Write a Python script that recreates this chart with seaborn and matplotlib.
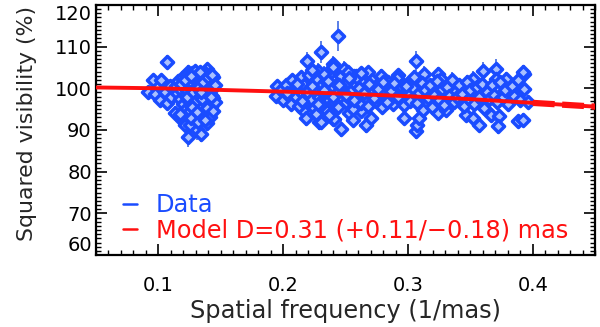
import matplotlib
matplotlib.use("Agg")
import matplotlib.pyplot as plt
import seaborn as sns
import pandas as pd
from matplotlib.ticker import MultipleLocator
from matplotlib.lines import Line2D

# ---- data ----
# low-frequency cluster
c1_freq = [0.0918, 0.0959, 0.097, 0.1017, 0.101, 0.1066, 0.107, 0.113, 0.119, 0.121, 0.125,
           0.131, 0.124, 0.134, 0.139, 0.141, 0.143, 0.124, 0.139, 0.141, 0.105, 0.110, 0.109,
           0.114, 0.115, 0.116, 0.117, 0.118, 0.119, 0.120, 0.120, 0.121, 0.122, 0.122, 0.123,
           0.124, 0.124, 0.125, 0.125, 0.126, 0.127, 0.127, 0.128, 0.128, 0.129, 0.130, 0.130,
           0.131, 0.131, 0.132, 0.133, 0.133, 0.134, 0.134, 0.135, 0.135, 0.136, 0.136, 0.137,
           0.137, 0.138, 0.138, 0.139, 0.139, 0.140, 0.140, 0.141, 0.141, 0.142, 0.142, 0.143,
           0.144, 0.144, 0.145, 0.145, 0.117, 0.126, 0.132, 0.129,
           0.118, 0.121, 0.123, 0.126, 0.128, 0.130, 0.132, 0.133, 0.135, 0.136, 0.138, 0.139,
           0.140, 0.142, 0.143, 0.144, 0.127, 0.131, 0.137, 0.134]
c1_v2 = [99.2, 101.9, 98.7, 101.9, 97.3, 106.4, 96.5, 94.1, 92.3, 91.3, 91.3,
         89.9, 88.3, 89.1, 91.7, 94.1, 98.1, 104.0, 104.6, 103.4, 99.0, 97.8, 100.6,
         100.5, 98.8, 101.8, 97.5, 99.6, 102.5, 96.2, 100.8, 98.3, 103.1, 95.0, 99.7,
         101.5, 97.1, 102.8, 94.6, 100.1, 98.0, 103.6, 96.4, 101.0, 99.2, 102.2, 95.3,
         97.8, 100.6, 103.0, 98.6, 93.8, 101.7, 96.9, 99.9, 102.9, 95.8, 98.1, 100.9,
         103.7, 97.2, 94.5, 99.4, 102.0, 96.5, 100.3, 98.7, 93.2, 101.4, 95.6, 99.9,
         97.6, 102.6, 100.8, 96.8, 93.9, 92.8, 92.0, 104.2,
         101.0, 102.0, 97.8, 103.0, 99.0, 97.0, 100.0, 104.0, 97.5, 101.5, 99.0, 95.2,
         102.8, 97.8, 103.2, 94.5, 95.5, 94.3, 92.5, 99.0]
c1_err = [1.2, 1.4, 1.1, 1.3, 1.2, 1.5, 1.3, 1.6, 1.8, 1.7, 1.9,
          2.2, 2.4, 2.0, 1.9, 1.7, 1.4, 1.5, 1.3, 1.4, 1.1, 1.2, 1.0,
          1.2, 1.3, 1.1, 1.4, 1.2, 1.3, 1.5, 1.1, 1.2, 1.4, 1.6, 1.1,
          1.3, 1.4, 1.2, 1.7, 1.1, 1.3, 1.5, 1.4, 1.2, 1.1, 1.3, 1.6,
          1.4, 1.2, 1.3, 1.1, 1.8, 1.2, 1.4, 1.1, 1.3, 1.5, 1.2, 1.1,
          1.4, 1.3, 1.7, 1.2, 1.3, 1.5, 1.1, 1.2, 1.8, 1.3, 1.6, 1.1,
          1.4, 1.3, 1.2, 1.5, 1.7, 1.9, 2.0, 1.4,
          1.2, 1.3, 1.4, 1.2, 1.3, 1.4, 1.2, 1.3, 1.4, 1.2, 1.3, 1.6,
          1.3, 1.4, 1.3, 1.6, 1.5, 1.6, 1.7, 1.2]

# high-frequency cluster
c2_freq = [0.195, 0.194, 0.209, 0.219, 0.2305, 0.244, 0.228, 0.240, 0.244, 0.216, 0.229,
           0.240, 0.2465, 0.253, 0.256, 0.257, 0.2305, 0.241, 0.256, 0.2625, 0.2665, 0.2705,
           0.268, 0.2585, 0.277, 0.292, 0.297, 0.3065, 0.313, 0.3065, 0.3075, 0.309, 0.324,
           0.3265, 0.324, 0.3305, 0.3385, 0.3465, 0.352, 0.357, 0.352, 0.360, 0.3705, 0.3705,
           0.3785, 0.3665, 0.373, 0.372, 0.381, 0.389, 0.393, 0.392, 0.388, 0.3925, 0.3585,
           0.198, 0.200, 0.202, 0.204, 0.206, 0.207, 0.209, 0.210, 0.212, 0.213, 0.214,
           0.216, 0.217, 0.218, 0.220, 0.221, 0.222, 0.224, 0.225, 0.226, 0.227, 0.229,
           0.230, 0.231, 0.232, 0.234, 0.235, 0.236, 0.237, 0.238, 0.239, 0.241, 0.242,
           0.243, 0.244, 0.245, 0.246, 0.247, 0.248, 0.249, 0.250, 0.251, 0.252, 0.254,
           0.255, 0.256, 0.258, 0.259, 0.260, 0.262, 0.263, 0.264, 0.266, 0.267, 0.268,
           0.270, 0.271, 0.272, 0.274, 0.275, 0.277, 0.278, 0.279, 0.281, 0.282, 0.284,
           0.285, 0.287, 0.288, 0.290, 0.291, 0.293, 0.294, 0.296, 0.297, 0.299, 0.300,
           0.302, 0.304, 0.305, 0.307, 0.309, 0.311, 0.312, 0.314, 0.316, 0.318, 0.319,
           0.321, 0.323, 0.325, 0.327, 0.329, 0.331, 0.333, 0.335, 0.337, 0.339, 0.341,
           0.343, 0.345, 0.347, 0.349, 0.350, 0.353, 0.355, 0.357, 0.359, 0.361, 0.363,
           0.365, 0.367, 0.369, 0.371, 0.374, 0.376, 0.378, 0.380, 0.383, 0.385, 0.388,
           0.390, 0.393, 0.396, 0.223, 0.233, 0.240, 0.252, 0.262, 0.218, 0.237, 0.226,
           0.203, 0.211, 0.215, 0.219, 0.223, 0.228, 0.233, 0.236, 0.240, 0.245, 0.250,
           0.253, 0.257, 0.261, 0.265, 0.269, 0.273, 0.276, 0.280, 0.283, 0.286, 0.289,
           0.292, 0.298]
c2_v2 = [100.6, 98.1, 101.5, 106.6, 108.7, 112.5, 104.2, 105.8, 103.9, 94.9, 91.9,
         92.7, 90.3, 94.1, 95.9, 103.0, 91.9, 92.7, 92.5, 94.5, 91.1, 92.9,
         103.8, 103.0, 101.4, 103.1, 92.9, 106.6, 103.4, 89.7, 91.3, 92.9, 103.4,
         102.2, 94.1, 94.9, 99.3, 93.7, 92.9, 91.3, 102.2, 104.2, 104.6, 102.2,
         102.2, 93.7, 93.3, 90.9, 99.3, 100.2, 103.4, 103.8, 92.1, 92.4, 97.8,
         99.5, 97.2, 100.8, 98.4, 96.3, 101.9, 99.0, 97.8, 100.2, 95.8, 102.6,
         98.7, 100.9, 96.9, 99.6, 103.2, 97.5, 101.3, 95.2, 99.0, 102.1, 97.9,
         100.5, 96.1, 98.8, 101.8, 94.6, 99.8, 97.2, 103.8, 100.4, 96.6, 98.2,
         101.0, 95.5, 99.3, 102.9, 97.6, 100.0, 104.6, 96.8, 98.9, 101.6, 97.3,
         99.7, 95.0, 100.8, 98.1, 102.3, 96.4, 99.1, 101.2, 97.7, 100.1, 95.7,
         98.6, 102.0, 99.4, 96.9, 100.7, 98.0, 103.0, 95.4, 99.5, 97.1, 101.4,
         98.5, 100.3, 96.2, 99.0, 102.4, 97.4, 100.6, 98.3, 95.9, 101.1, 99.2,
         97.0, 100.0, 102.7, 96.5, 98.8, 101.3, 94.8, 99.6, 97.6, 100.9, 95.6,
         98.4, 101.7, 97.2, 99.8, 96.0, 100.4, 98.1, 102.1, 96.8, 97.9, 100.9,
         98.6, 95.8, 101.5, 97.5, 99.7, 96.3, 100.2, 98.0, 101.0, 95.3, 99.1,
         97.4, 100.8, 98.3, 96.6, 101.6, 97.8, 99.6, 96.2, 100.5, 98.2, 101.9,
         97.1, 99.9, 96.8, 104.5, 103.5, 105.0, 104.0, 103.6, 92.8, 93.5, 93.9,
         98.9, 101.0, 97.0, 99.0, 100.5, 96.3, 99.6, 101.8, 97.9, 100.7, 98.5,
         102.4, 97.2, 100.0, 98.8, 101.0, 97.6, 99.8, 101.6, 96.8, 99.3, 101.2,
         98.0, 100.6]
c2_err = [1.3, 1.2, 1.4, 2.2, 2.6, 3.6, 1.8, 2.0, 1.7, 1.5, 1.9,
          1.8, 2.1, 1.6, 1.4, 1.7, 1.9, 1.8, 1.7, 1.6, 1.9, 1.7,
          1.6, 1.5, 1.4, 1.6, 1.8, 2.4, 1.9, 1.8, 1.7, 1.6, 1.7,
          1.5, 1.6, 1.5, 1.3, 1.6, 1.5, 1.7, 2.0, 2.2, 2.4, 1.9,
          1.6, 1.5, 1.6, 1.8, 1.4, 1.3, 2.1, 1.8, 1.6, 1.7, 1.4,
          1.2, 1.3, 1.1, 1.4, 1.2, 1.5, 1.1, 1.3, 1.2, 1.4, 1.6,
          1.2, 1.3, 1.4, 1.1, 1.7, 1.3, 1.2, 1.5, 1.1, 1.4, 1.3,
          1.2, 1.4, 1.1, 1.5, 1.6, 1.2, 1.3, 1.8, 1.2, 1.4, 1.1,
          1.3, 1.5, 1.2, 1.6, 1.3, 1.1, 1.9, 1.4, 1.2, 1.5, 1.3,
          1.2, 1.5, 1.3, 1.1, 1.6, 1.4, 1.2, 1.3, 1.4, 1.1, 1.5,
          1.3, 1.6, 1.2, 1.4, 1.3, 1.1, 1.7, 1.5, 1.2, 1.3, 1.4,
          1.2, 1.3, 1.5, 1.2, 1.6, 1.3, 1.4, 1.2, 1.5, 1.3, 1.2,
          1.4, 1.2, 1.7, 1.5, 1.3, 1.4, 1.6, 1.2, 1.4, 1.3, 1.5,
          1.3, 1.6, 1.4, 1.2, 1.5, 1.3, 1.2, 1.7, 1.4, 1.3, 1.5,
          1.3, 1.5, 1.6, 1.3, 1.2, 1.5, 1.3, 1.2, 1.4, 1.6, 1.3,
          1.4, 1.5, 1.3, 1.5, 1.7, 1.4, 1.3, 1.5, 1.4, 1.3, 1.6,
          1.4, 1.3, 1.5, 2.0, 1.8, 2.1, 1.7, 1.6, 1.8, 1.7, 1.6,
          1.2, 1.3, 1.4, 1.2, 1.3, 1.4, 1.2, 1.3, 1.4, 1.2, 1.3,
          1.5, 1.3, 1.2, 1.3, 1.4, 1.3, 1.2, 1.4, 1.3, 1.2, 1.3,
          1.4, 1.3]

# model curve
model_freq = [0.05, 0.10, 0.15, 0.20, 0.25, 0.30, 0.35, 0.40, 0.45]
model_v2 = [100.2, 100.0, 99.6, 99.2, 98.7, 98.1, 97.4, 96.5, 95.6]

x_ticks = [0.1, 0.2, 0.3, 0.4]
y_ticks = [60, 70, 80, 90, 100, 110, 120]
legend_labels = ["Data", "Model D=0.31 (+0.11/\u22120.18) mas"]

# ---- build tables ----
data = pd.DataFrame({
    "freq": c1_freq + c2_freq,
    "v2": c1_v2 + c2_v2,
    "err": c1_err + c2_err,
})
model = pd.DataFrame({"freq": model_freq, "v2": model_v2})

BLUE = "#1a4cff"
BAR = "#5a7fe6"
FACE = "#a9c0ff"
RED = "#ff1010"

sns.set_theme(style="ticks")
plt.rcParams["font.family"] = ["DejaVu Sans"]

fig = plt.figure(figsize=(6.0, 3.27), dpi=100)
ax = fig.add_axes([0.16, 0.22, 0.832, 0.765])

ax.errorbar(data["freq"], data["v2"], yerr=data["err"], fmt="none",
            ecolor=BAR, elinewidth=1.4, capsize=0, zorder=1)
sns.scatterplot(data=data, x="freq", y="v2", marker="D", s=38,
                color=FACE, edgecolor=BLUE, linewidth=2.5, ax=ax, zorder=2)
sns.lineplot(data=model, x="freq", y="v2", color=RED, lw=2.8, ax=ax,
             zorder=3, sort=True, estimator=None)
m_tail = model[model["freq"] >= 0.40]
ax.plot(m_tail["freq"], m_tail["v2"], color=RED, lw=4.5,
        dashes=(3.5, 1.2), zorder=3, solid_capstyle="butt")

ax.set_xlim(0.05, 0.45)
ax.set_ylim(60, 120)
ax.set_xticks(x_ticks)
ax.set_xticklabels([f"{t:.1f}" for t in x_ticks])
ax.set_yticks(y_ticks)
ax.set_yticklabels([str(t) for t in y_ticks])
ax.xaxis.set_minor_locator(MultipleLocator(0.01))
ax.yaxis.set_minor_locator(MultipleLocator(1))
ax.tick_params(which="both", direction="in", top=True, right=True,
               labelsize=14, colors="black", width=1.2)
ax.tick_params(axis="x", which="major", pad=15)
ax.tick_params(axis="y", which="major", pad=3)
ax.tick_params(which="major", length=8)
ax.tick_params(which="minor", length=3.5, width=1.0)
for sp in ax.spines.values():
    sp.set_linewidth(1.6)
    sp.set_color("black")

# end labels sit inside the axis range, as in the reference
ylabels = ax.get_yticklabels()
ylabels[0].set_verticalalignment("bottom")
ylabels[-1].set_verticalalignment("top")

ax.set_xlabel("Spatial frequency (1/mas)", fontsize=17.3, labelpad=3)
ax.set_ylabel("Squared visibility (%)", fontsize=15.8)
ax.yaxis.set_label_coords(-0.118, 0.525)

handles = [Line2D([0], [0], color=BLUE, lw=1.8),
           Line2D([0], [0], color=RED, lw=1.8)]
leg = ax.legend(handles, legend_labels, loc="lower left", frameon=False,
                handlelength=0.6, handletextpad=0.75, fontsize=17.3,
                labelcolor=[BLUE, RED], borderaxespad=0.0,
                bbox_to_anchor=(0.035, 0.012), labelspacing=0.05)

fig.savefig("out.png", dpi=100)
